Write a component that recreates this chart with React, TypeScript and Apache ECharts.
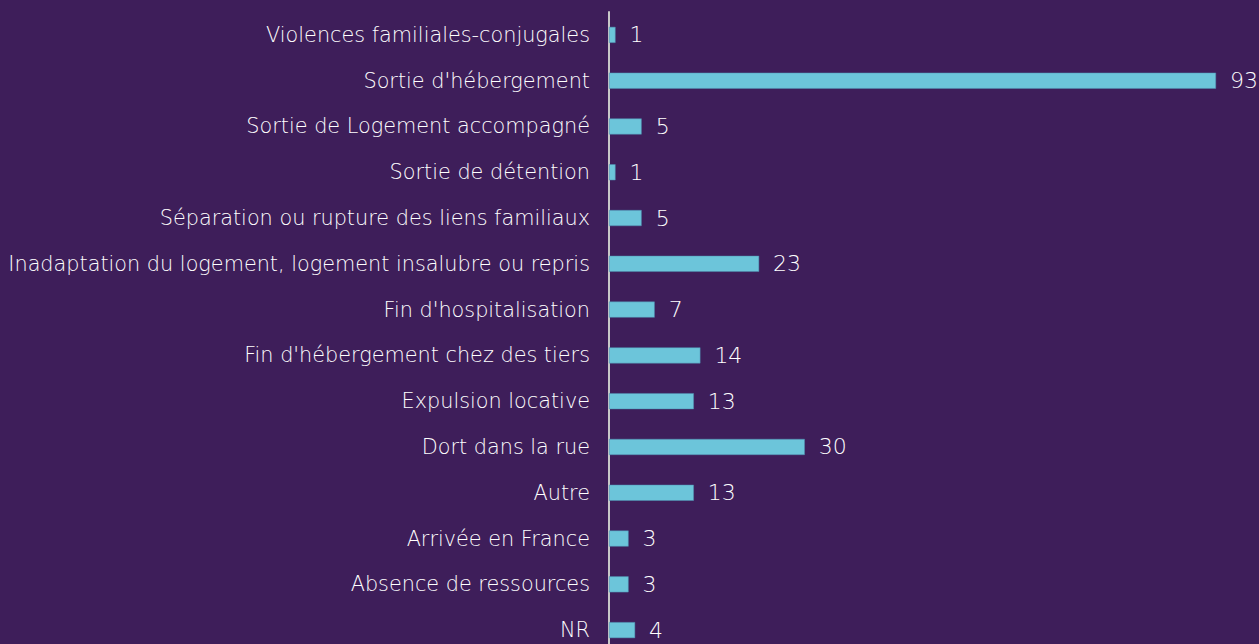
import React, { useEffect, useRef } from "react";
import * as echarts from "echarts";

const categories = [
  "Violences familiales-conjugales",
  "Sortie d'hébergement",
  "Sortie de Logement accompagné",
  "Sortie de détention",
  "Séparation ou rupture des liens familiaux",
  "Inadaptation du logement, logement insalubre ou repris",
  "Fin d'hospitalisation",
  "Fin d'hébergement chez des tiers",
  "Expulsion locative",
  "Dort dans la rue",
  "Autre",
  "Arrivée en France",
  "Absence de ressources",
  "NR",
];
const values = [1, 93, 5, 1, 5, 23, 7, 14, 13, 30, 13, 3, 3, 4];

const FONT = "'DejaVu Sans', sans-serif";

export default function App() {
  const ref = useRef<HTMLDivElement>(null);
  useEffect(() => {
    document.body.style.margin = "0";
    document.body.style.background = "#3e1e5a";
    const chart = echarts.init(ref.current!, null, { renderer: "svg" });
    chart.setOption({
      animation: false,
      backgroundColor: "#3e1e5a",
      grid: { left: 609, top: 12, height: 641, width: 607, containLabel: false },
      xAxis: {
        type: "value",
        min: 0,
        max: 93,
        show: false,
      },
      yAxis: {
        type: "category",
        inverse: true,
        data: categories,
        axisLine: { show: true, lineStyle: { color: "#c8c8c8", width: 2 } },
        axisTick: { show: false },
        axisLabel: {
          color: "#ffffff",
          fontFamily: FONT,
          fontWeight: 200,
          fontSize: 20.8,
          margin: 19,
          padding: [4, 0, 0, 0],
        },
      },
      series: [
        {
          type: "bar",
          data: values,
          barWidth: 16,
          itemStyle: { color: "#6cc5da", borderColor: "#4e8fb0", borderWidth: 0.5 },
          label: {
            show: true,
            position: "right",
            distance: 14,
            color: "#ffffff",
            fontFamily: FONT,
            fontWeight: 200,
            fontSize: 22,
            padding: [4, 0, 0, 0],
          },
        },
      ],
    });
    return () => chart.dispose();
  }, []);
  return (
    <div
      ref={ref}
      style={{ position: "fixed", left: 0, top: 0, width: 1259, height: 661 }}
    />
  );
}
